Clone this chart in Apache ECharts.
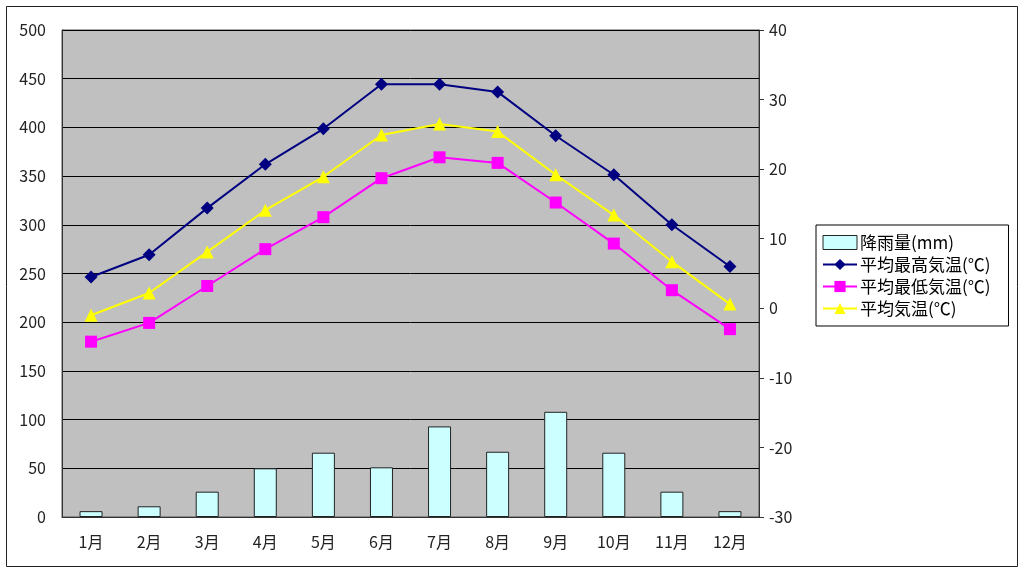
<!DOCTYPE html>
<html>
<head>
<meta charset="utf-8">
<script src="https://cdn.jsdelivr.net/npm/echarts@6/dist/echarts.min.js"></script>
<style>
  html, body { margin: 0; padding: 0; background: #fff; }
  #main { width: 1024px; height: 572px; }
</style>
</head>
<body>
<div id="main"></div>
<script>
var chart = echarts.init(document.getElementById("main"));

// 月
var months = ['1月', '2月', '3月', '4月', '5月', '6月', '7月', '8月', '9月', '10月', '11月', '12月'];
// 降雨量 (mm)
var rain = [6, 11, 26, 50, 66, 51, 93, 67, 108, 66, 26, 6];
// 平均最高気温
var tempHigh = [4.5, 7.7, 14.4, 20.7, 25.8, 32.2, 32.2, 31.1, 24.8, 19.2, 12.0, 6.0];
// 平均最低気温
var tempLow = [-4.8, -2.1, 3.2, 8.5, 13.1, 18.7, 21.7, 20.9, 15.2, 9.3, 2.6, -3.0];
// 平均気温
var tempAvg = [-1.0, 2.2, 8.1, 14.1, 18.9, 24.9, 26.5, 25.4, 19.2, 13.4, 6.7, 0.6];

var font = '"Noto Sans CJK JP", sans-serif';

option = {
    backgroundColor: '#fff',
    textStyle: { fontFamily: font },
    graphic: [
      {
        type: 'rect',
        shape: { x: 6.5, y: 6.5, width: 1011, height: 560 },
        style: { fill: 'none', stroke: '#222', lineWidth: 1 },
        z: -1
      }
    ],
    grid: {
      left: 62,
      right: 265,
      top: 30,
      bottom: 55,
      show: true,
      backgroundColor: '#c0c0c0',
      borderColor: '#555',
      borderWidth: 1
    },
    legend: {
      orient: 'vertical',
      left: 816,
      top: 225,
      padding: [9, 18, 9, 6],
      itemGap: 5,
      itemWidth: 34,
      itemHeight: 14,
      backgroundColor: '#fff',
      borderColor: '#000',
      borderWidth: 1,
      borderRadius: 0,
      textStyle: { fontFamily: font, fontSize: 17, color: '#000', padding: [0, 0, 0, -2] },
      data: [
        { name: '降雨量(mm)', icon: 'rect', itemStyle: { color: '#ccffff', borderColor: '#222', borderWidth: 1 } },
        '平均最高気温(℃)',
        '平均最低気温(℃)',
        '平均気温(℃)'
      ]
    },
    xAxis: {
      type: 'category',
      data: months,
      axisLine: { lineStyle: { color: '#333', width: 1 } },
      axisTick: { inside: true, length: 5, lineStyle: { color: '#333' } },
      axisLabel: { fontFamily: font, fontSize: 16, color: '#222', margin: 17 }
    },
    yAxis: [
      {
        type: 'value',
        min: 0,
        max: 500,
        interval: 50,
        axisLine: { show: true, lineStyle: { color: '#333' } },
        axisTick: { show: false },
        axisLabel: { fontFamily: font, fontSize: 16, color: '#222', margin: 16 },
        splitLine: { lineStyle: { color: '#000', width: 1 } }
      },
      {
        type: 'value',
        min: -30,
        max: 40,
        interval: 10,
        position: 'right',
        axisLine: { show: true, lineStyle: { color: '#333' } },
        axisTick: { show: true, length: 5, lineStyle: { color: '#333' } },
        axisLabel: { fontFamily: font, fontSize: 16, color: '#222', margin: 10 },
        splitLine: { show: false }
      }
    ],
    series: [
      {
        name: '降雨量(mm)',
        type: 'bar',
        data: rain,
        barWidth: 23,
        itemStyle: { color: '#ccffff', borderColor: '#222', borderWidth: 1 }
      },
      {
        name: '平均最高気温(℃)',
        type: 'line',
        yAxisIndex: 1,
        data: tempHigh,
        symbol: 'diamond',
        symbolSize: 13,
        itemStyle: { color: '#000080' },
        lineStyle: { color: '#000080', width: 2 }
      },
      {
        name: '平均最低気温(℃)',
        type: 'line',
        yAxisIndex: 1,
        data: tempLow,
        symbol: 'rect',
        symbolSize: 12,
        itemStyle: { color: '#ff00ff' },
        lineStyle: { color: '#ff00ff', width: 2 }
      },
      {
        name: '平均気温(℃)',
        type: 'line',
        yAxisIndex: 1,
        data: tempAvg,
        symbol: 'triangle',
        symbolSize: 13,
        itemStyle: { color: '#ffff00' },
        lineStyle: { color: '#ffff00', width: 2 }
      }
    ]
};

chart.setOption(option);
</script>
</body>
</html>
